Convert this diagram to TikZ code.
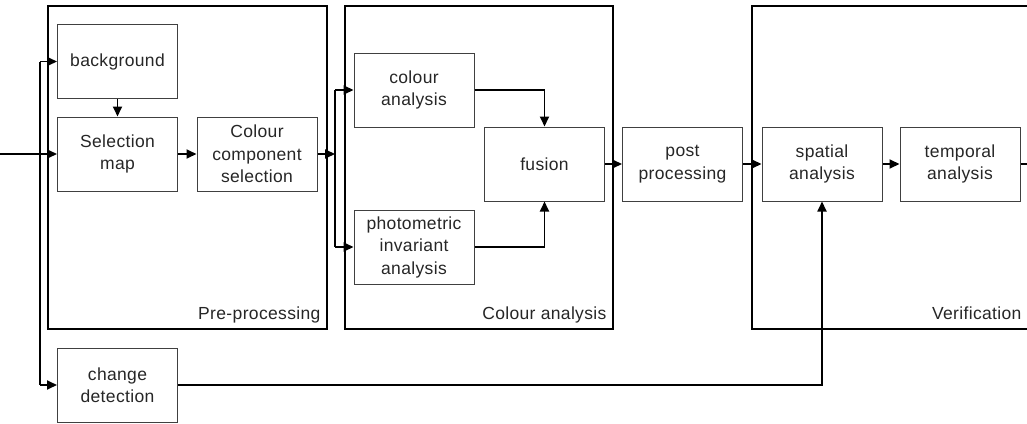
\documentclass[tikz,border=0pt]{standalone}
\usepackage{fontspec}
\setmainfont[LetterSpace=2]{Liberation Sans}
\usetikzlibrary{arrows.meta}

\begin{document}
\begin{tikzpicture}[x=1pt, y=-1pt,
    every node/.style={font=\fontsize{17.5}{22.5}\selectfont, text=black!85},
    block/.style={draw=black!75, line width=1pt, minimum width=120pt,
      minimum height=74pt, inner sep=0pt, align=center},
    frame/.style={line width=2.4pt},
    link/.style={line width=1.8pt},
    arr/.style={link, -{Triangle[length=10pt,width=9pt]}},
    tag/.style={anchor=base east, xshift=-3pt, yshift=10pt}]

  \useasboundingbox (0,0) rectangle (1027,423);

  % stage frames
  \draw[frame] (48,6) rectangle (327,329);
  \coordinate (pre) at (327,329);
  \node[tag] at (pre) {Pre-processing};

  \draw[frame] (345,6) rectangle (613,329);
  \coordinate (col) at (613,329);
  \node[tag] at (col) {Colour analysis};

  \draw[frame] (1027,6) -- (752,6) -- (752,329) -- (1027,329);
  \coordinate (ver) at (1027,329);
  \node[tag, xshift=1pt] at (ver) {Verification};

  % blocks
  \node[block] (bg) at (117.5,61.5) {background};
  \node[block] (selmap) at (117.5,154) {Selection\\map};
  \node[block] (ccs) at (257,154) {Colour\\component\\selection};
  \node[block] (cdet) at (117.5,385) {change\\detection};

  \node[block] (colan) at (414,90) {colour\\analysis};
  \node[block] (photo) at (414,247) {photometric\\invariant\\analysis};
  \node[block] (fusion) at (544.5,164) {fusion};

  \node[block] (post) at (682.5,164) {post\\processing};
  \node[block] (spatial) at (822,164) {spatial\\analysis};
  \node[block] (temporal) at (960,164) {temporal\\analysis};

  % connections
  \coordinate (in) at (0,154);
  \coordinate (fork1) at (40,154);
  \coordinate (fork2) at (335,154);
  \coordinate (out) at (1027,164);

  \draw[arr] (in) -- (selmap);
  \draw[link] (fork1 |- bg) -- (fork1 |- cdet);
  \draw[arr] (fork1 |- bg) -- (bg);
  \draw[arr] (fork1 |- cdet) -- (cdet);

  \draw[arr] (bg) -- (selmap);
  \draw[arr] (selmap) -- (ccs);
  \draw[arr] (ccs) -- (fork2);

  \draw[link] (fork2 |- colan) -- (fork2 |- photo);
  \draw[arr] (fork2 |- colan) -- (colan);
  \draw[arr] (fork2 |- photo) -- (photo);
  \draw[arr] (colan) -| (fusion);
  \draw[arr] (photo) -| (fusion);

  \draw[arr] (fusion) -- (post);
  \draw[arr] (post) -- (spatial);
  \draw[arr] (spatial) -- (temporal);
  \draw[link] (temporal) -- (out);

  \draw[arr] (cdet) -| (spatial);

\end{tikzpicture}
\end{document}
